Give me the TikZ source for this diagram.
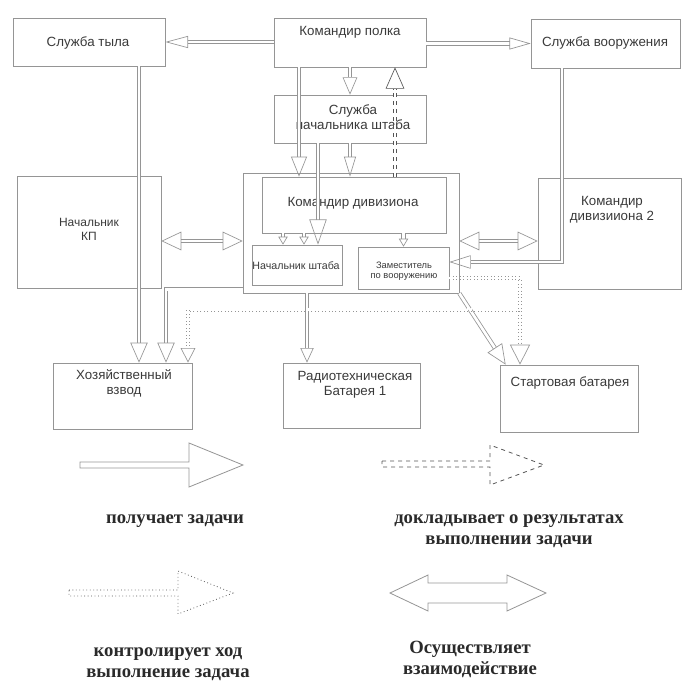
\documentclass[tikz,border=0pt]{standalone}
\usepackage{fontspec}
\setmainfont{Liberation Serif}
\newfontfamily\dsans{Liberation Sans}
\usetikzlibrary{arrows.meta}
\definecolor{lc}{HTML}{959595}
\definecolor{tc}{HTML}{3A3A3A}
\definecolor{lg}{HTML}{2A2A2A}
\definecolor{dk}{HTML}{555555}
\newcommand\mkbox[5]{\node[box, minimum width={(#4-#2)*0.75pt}, minimum height={(#5-#3)*0.75pt}] (#1) at ({(#2+#4)/2},{(#3+#5)/2}) {};}
\begin{document}
\begin{tikzpicture}[x=0.75pt,y=-0.75pt,
  box/.style={draw=lc, line width=0.5pt, inner sep=0pt},
  dt/.style={text=tc, inner sep=0pt, align=center, font=\dsans\fontsize{10}{11.5}\selectfont},
  st/.style={text=tc, inner sep=0pt, align=center, font=\dsans\fontsize{7}{7.5}\selectfont},
  lt/.style={text=lg, inner sep=0pt, align=center, font=\bfseries\fontsize{14}{16}\selectfont},
  hol/.style={draw=lc, line width=0.6pt, double=white, double distance=2pt},
  ctl/.style={hol, dotted},
  rep/.style={draw=dk, line width=0.6pt, double=white, double distance=2pt, dashed},
  hd/.style 2 args={-{Triangle[open, length=#1pt, width=#2pt, line width=0.5pt]}},
  hh/.style 2 args={{Triangle[open, length=#1pt, width=#2pt, line width=0.5pt]}-{Triangle[open, length=#1pt, width=#2pt, line width=0.5pt]}},
  leg/.style={draw=lc, line width=0.6pt}
]
\useasboundingbox (0,0) rectangle (683,699);

% boxes
\mkbox{stl}{13}{18}{165}{66}
\mkbox{kp}{274}{18}{426}{67}
\mkbox{sv}{531}{19}{680}{68}
\mkbox{ssh}{274}{95}{426}{143}
\mkbox{cont}{243}{173}{459}{293}
\mkbox{kd}{262}{177}{446}{233}
\mkbox{nsh}{252}{245}{342}{285}
\mkbox{zam}{358}{247}{449}{289}
\mkbox{nkp}{17}{176}{161}{288}
\mkbox{kdd}{538}{178}{681}{289}
\mkbox{hv}{53}{363}{192}{429}
\mkbox{rb}{283}{363}{420}{428}
\mkbox{sb}{500}{365}{638}{432}

% texts
\node[dt] (tstl) at (88,43) {Служба тыла};
\node[dt] (tkp) at (350,32) {Командир полка};
\node[dt] (tsv) at (605,43) {Служба вооружения};
\node[dt] (tssh) at (353,117.5) {Служба\\начальника штаба};
\node[dt] (tkd) at (353,203) {Командир дивизиона};
\node[dt, font=\dsans\fontsize{9}{10}\selectfont] (tnkp) at (89,229.5) {Начальник\\КП};
\node[dt] (tkdd) at (612,209.5) {Командир\\дивизииона 2};
\node[dt, font=\dsans\fontsize{8}{9}\selectfont] (tnsh) at (296,266) {Начальник штаба};
\node[st] (tzam) at (404,271) {Заместитель\\по вооружению};
\node[dt] (thv) at (124,383.5) {Хозяйственный\\взвод};
\node[dt] (trb) at (355,384.5) {Радиотехническая\\Батарея 1};
\node[dt] (tsb) at (570,383) {Стартовая батарея};

% helper coordinates
\path (kp.west) ++(0,0) coordinate (r1);
\path (kp.south) ++(-51,0) coordinate (a);
\path (ssh.south) ++(-32,0) coordinate (b);
\path (kd.north) ++(41,0) coordinate (c);
\path (nsh.north) ++(-14,0) coordinate (d1);
\path (nsh.north) ++(7,0) coordinate (d2);
\path (nkp.east) ++(0,9) coordinate (e);
\path (cont.east) ++(0,8) coordinate (f);
\path (sv.south) ++(-43.5,0) coordinate (g);
\path (zam.east) ++(0,-6) coordinate (h);
\path (stl.south) ++(50,0) coordinate (i);
\path (cont.south west) ++(0,-4) coordinate (j);
\path (hv.north) ++(43.5,0) coordinate (k);
\path (rb.north) ++(-44.5,0) coordinate (l);
\path (sb.north west) ++(6,0) coordinate (m);
\path (zam.east) ++(0,10) coordinate (n);
\path (sb.north) ++(-49,0) coordinate (o);
\path (o) ++(0,-55) coordinate (q);
\path (hv.north) ++(65.5,0) coordinate (p);

% connectors
\draw[hol, hd={17}{9}] (kp.west |- stl.east) -- (stl.east);
\draw[hol, hd={16}{9}] (kp.east |- sv.west) -- (sv.west);
\draw[hol, hd={13}{11}] (kp.south) -- (ssh.north);
\draw[hol, hd={15}{12}] (a) -- (a |- kd.north);
\draw[hol, hd={15}{9}] (ssh.south) -- (ssh.south |- kd.north);
\draw[hol, hd={19}{13}] (b) -- (b |- nsh.north);
\draw[rep, hd={16}{14}] (c) -- (c |- kp.south);
\draw[hol, hd={6}{7}] (d1 |- kd.south) -- (d1);
\draw[hol, hd={6}{7}] (d2 |- kd.south) -- (d2);
\draw[hol, hd={6}{7}] (zam.north |- kd.south) -- (zam.north);
\draw[hol, hh={15}{14}] (e) -- (e -| cont.west);
\draw[hol, hh={15}{14}] (f) -- (f -| kdd.west);
\draw[hol, hd={16}{10}] (g) |- (h);
\draw[hol, hd={15}{13}] (i) -- (i |- hv.north);
\draw[hol, hd={15}{13}] (j) -| (k);
\draw[hol, hd={11}{10}] (l |- cont.south) -- (l);
\draw[hol, hd={15}{13}] (cont.south east) -- (m);
\draw[ctl, hd={15}{15}] (n) -| (o);
\draw[ctl, hd={11}{11}] (q) -| (p);

% legend shapes
\draw[leg] (80,462) -- (189,462) -- (189,443) -- (243,465) -- (189,487) -- (189,468) -- (80,468) -- cycle;
\draw[leg, draw=dk, dashed] (382,461) -- (490,461) -- (490,445) -- (544,465) -- (490,485) -- (490,467) -- (382,467) -- cycle;
\draw[leg, dotted, draw=dk] (69,590) -- (178,590) -- (178,571) -- (233,593) -- (178,614) -- (178,596) -- (69,596) -- cycle;
\draw[leg] (390,593) -- (428,575) -- (428,583) -- (507,583) -- (507,575) -- (546,593) -- (507,611) -- (507,603) -- (428,603) -- (428,611) -- cycle;

% legend texts
\node[lt] (l1) at (175,521) {получает задачи};
\node[lt] (l2) at (509,531.5) {докладывает о результатах\\выполнении задачи};
\node[lt] (l3) at (168,664) {контролирует ход\\выполнение задача};
\node[lt] (l4) at (470,659.5) {Осуществляет\\взаимодействие};
\end{tikzpicture}
\end{document}
